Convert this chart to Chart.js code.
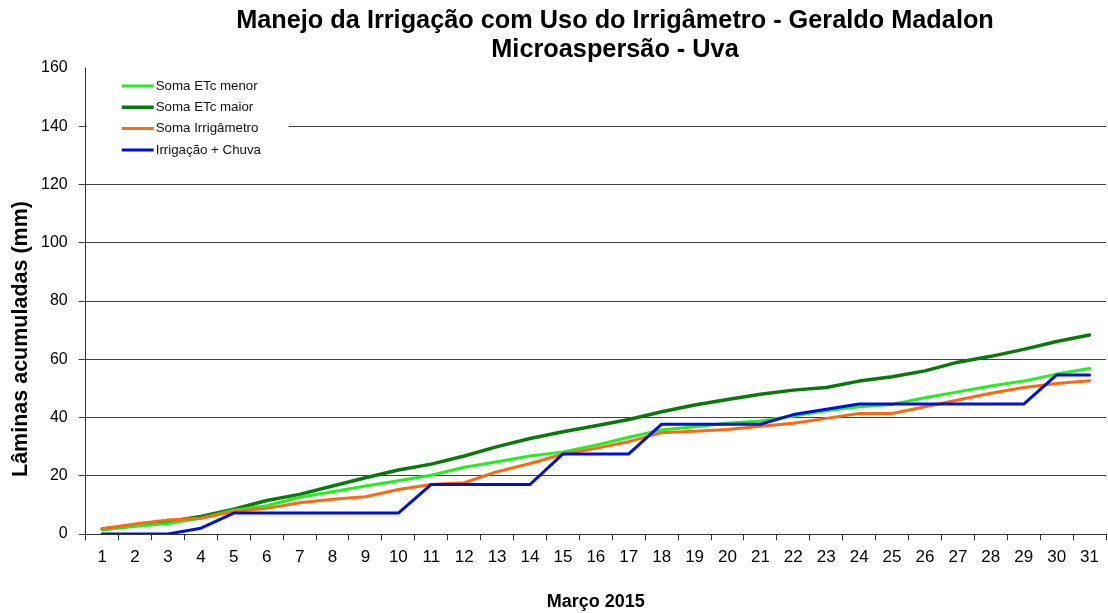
<!DOCTYPE html>
<html>
<head>
<meta charset="utf-8">
<script src="https://cdn.jsdelivr.net/npm/chart.js@4.4.1/dist/chart.umd.min.js"></script>
<style>
    html, body { margin: 0; padding: 0; background: #fff; }
    #wrap { width: 1108px; height: 613px; position: relative; }
</style>
</head>
<body>
<div id="wrap"><canvas id="chart"></canvas></div>
<script>
// dias de março
const days = ['1', '2', '3', '4', '5', '6', '7', '8', '9', '10', '11', '12', '13', '14', '15', '16',
    '17', '18', '19', '20', '21', '22', '23', '24', '25', '26', '27', '28', '29', '30', '31'];

const etcMenor = [1.4, 2.7, 3.6, 5.4, 8.2, 9.7, 12.6, 14.5, 16.5, 18.3, 20.2, 22.9, 24.8, 26.8, 28.2, 30.5,
    33.2, 35.7, 36.8, 38.0, 38.8, 40.5, 42.3, 43.7, 44.5, 46.8, 48.8, 50.8, 52.5, 54.9, 56.8];
const etcMaior = [1.7, 2.9, 4.2, 6.0, 8.5, 11.5, 13.6, 16.5, 19.3, 22.0, 24.0, 26.8, 30.0, 32.8, 35.1, 37.2,
    39.3, 42.0, 44.3, 46.2, 48.0, 49.4, 50.3, 52.5, 54.0, 56.0, 59.0, 61.0, 63.4, 66.1, 68.3];
const somaIrrigametro = [1.8, 3.4, 4.8, 5.4, 7.7, 8.8, 10.7, 11.9, 12.8, 15.3, 17.0, 17.6, 21.4, 24.2, 27.4, 29.4,
    31.7, 34.8, 35.3, 35.9, 37.0, 38.0, 39.7, 41.4, 41.4, 43.7, 46.0, 48.3, 50.3, 51.7, 52.6];
const irrigacaoChuva = [0, 0, 0, 2.0, 7.2, 7.2, 7.2, 7.2, 7.2, 7.2, 17.0, 17.0, 17.0, 17.0, 27.5, 27.5,
    27.5, 37.7, 37.7, 37.7, 37.7, 41.0, 42.8, 44.6, 44.6, 44.6, 44.6, 44.6, 44.6, 54.6, 54.6];

const yTicks = [0, 20, 40, 60, 80, 100, 120, 140, 160];

const titleLines = ['Manejo da Irrigação com Uso do Irrigâmetro - Geraldo Madalon', 'Microaspersão - Uva'];
const yTitle = 'Lâminas acumuladas (mm)';
const xTitle = 'Março 2015';

const FONT = '"Liberation Sans", Arial, sans-serif';

// titulo e eixo y desenhados a mao (posicoes do original)
const textPlugin = {
    id: 'textPlugin',
    afterDraw(chart) {
        const ctx = chart.ctx;
        ctx.save();
        ctx.fillStyle = '#000';
        ctx.textAlign = 'center';
        ctx.textBaseline = 'middle';
        ctx.font = 'bold 25.3px ' + FONT;
        ctx.fillText(titleLines[0], 615, 21);
        ctx.fillText(titleLines[1], 615, 50);

        ctx.translate(21, 339);
        ctx.rotate(-Math.PI / 2);
        ctx.font = 'bold 21.5px ' + FONT;
        ctx.fillText(yTitle, 0, 0);
        ctx.restore();
    }
};

// legenda dentro da area do grafico
const boxLegend = {
    id: 'boxLegend',
    afterDatasetsDraw(chart) {
        const ctx = chart.ctx;
        const area = chart.chartArea;
        ctx.save();
        ctx.fillStyle = '#fff';
        ctx.fillRect(area.left + 1, area.top, 202, 97);
        ctx.font = '13.3px ' + FONT;
        ctx.textBaseline = 'middle';
        ctx.textAlign = 'left';
        chart.data.datasets.forEach((ds, i) => {
            const y = area.top + 18 + i * 21.3;
            ctx.strokeStyle = ds.borderColor;
            ctx.lineWidth = ds.borderWidth;
            ctx.beginPath();
            ctx.moveTo(area.left + 36, y);
            ctx.lineTo(area.left + 68, y);
            ctx.stroke();
            ctx.fillStyle = '#111';
            ctx.fillText(ds.label, area.left + 70, y);
        });
        ctx.restore();
    }
};

const ctx = document.getElementById('chart').getContext('2d');
new Chart(ctx, {
    type: 'line',
    data: {
        labels: days,
        datasets: [
            { label: 'Soma ETc menor', data: etcMenor, borderColor: '#22ee22', borderWidth: 3, order: 3 },
            { label: 'Soma ETc maior', data: etcMaior, borderColor: '#0a780a', borderWidth: 3.5, order: 4 },
            { label: 'Soma Irrigâmetro', data: somaIrrigametro, borderColor: '#ff6a10', borderWidth: 3, order: 2 },
            { label: 'Irrigação + Chuva', data: irrigacaoChuva, borderColor: '#0010d8', borderWidth: 3, order: 1 }
        ]
    },
    options: {
        responsive: true,
        maintainAspectRatio: false,
        animation: false,
        elements: {
            point: { radius: 0 },
            line: { tension: 0, borderCapStyle: 'round', borderJoinStyle: 'round' }
        },
        layout: {
            padding: { top: 68, left: 30, right: 2, bottom: 0 }
        },
        plugins: {
            legend: { display: false },
            title: { display: false },
            tooltip: { enabled: false }
        },
        scales: {
            x: {
                offset: true,
                grid: {
                    offset: true,
                    drawOnChartArea: false,
                    tickLength: 6,
                    color: '#333'
                },
                border: { color: '#333', width: 1 },
                ticks: {
                    color: '#000',
                    padding: 7,
                    maxRotation: 0,
                    autoSkip: false,
                    font: { family: FONT, size: 17 }
                },
                title: {
                    display: true,
                    text: xTitle,
                    color: '#000',
                    font: { family: FONT, size: 18, weight: 'bold' },
                    padding: { top: 17, bottom: 0 }
                }
            },
            y: {
                min: yTicks[0],
                max: yTicks[yTicks.length - 1],
                afterBuildTicks: axis => {
                    axis.ticks = yTicks.map(v => ({ value: v }));
                },
                grid: {
                    tickLength: 7,
                    color: c => (c.tick && c.tick.value === 160) ? 'rgba(0,0,0,0)' : '#404040'
                },
                border: { color: '#333', width: 1 },
                ticks: {
                    color: '#000',
                    padding: 11,
                    font: { family: FONT, size: 16 }
                }
            }
        }
    },
    plugins: [textPlugin, boxLegend]
});
</script>
</body>
</html>
